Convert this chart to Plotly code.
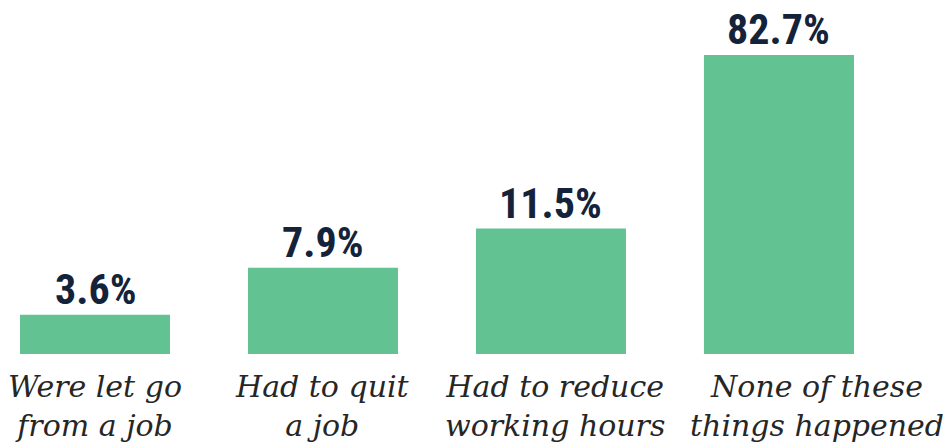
import plotly.graph_objects as go

# Survey responses: share of respondents per outcome
categories = ["Were let go<br>from a job", "Had to quit<br>a job",
              "Had to reduce<br>working hours", "None of these<br>things happened"]
values = [3.6, 7.9, 11.5, 82.7]
value_labels = [f"{v}%" for v in values]

BAR_COLOR = "#63c292"
VALUE_COLOR = "#14233a"
LABEL_COLOR = "#262626"

# The y axis is capped so the small bars stay readable; the tallest bar runs off the top
Y_MAX = 27.4

fig = go.Figure(
    go.Bar(
        x=categories,
        y=values,
        marker=dict(color=BAR_COLOR, line=dict(width=0)),
        width=0.658,
        hoverinfo="skip",
    )
)

# Value labels above each bar (clamped to the visible range)
for cat, v, txt in zip(categories, values, value_labels):
    fig.add_annotation(
        x=cat, y=min(v, Y_MAX), xref="x", yref="y",
        text=f"<b>{txt}</b>", showarrow=False,
        yanchor="bottom", yshift=-1,
        font=dict(family="Roboto Condensed, Liberation Sans Narrow, DejaVu Sans Condensed, sans-serif",
                  size=42, color=VALUE_COLOR),
    )

# Category labels below the bars
label_shift = [0, 0, 4, 38]
for cat, dx in zip(categories, label_shift):
    fig.add_annotation(
        x=cat, y=0, xref="x", yref="paper",
        text=f"<i>{cat}</i>", showarrow=False,
        yanchor="top", yshift=-13, xshift=dx,
        font=dict(family="DejaVu Serif, serif", size=30, color=LABEL_COLOR),
    )

fig.update_layout(
    width=952, height=448,
    margin=dict(l=0, r=0, t=55, b=94),
    paper_bgcolor="white", plot_bgcolor="white",
    showlegend=False,
    xaxis=dict(range=[-0.4167, 3.759], showticklabels=False, showgrid=False,
               zeroline=False, showline=False, ticks=""),
    yaxis=dict(range=[0, Y_MAX], visible=False, showgrid=False, zeroline=False),
)

fig.write_html("out.html")
